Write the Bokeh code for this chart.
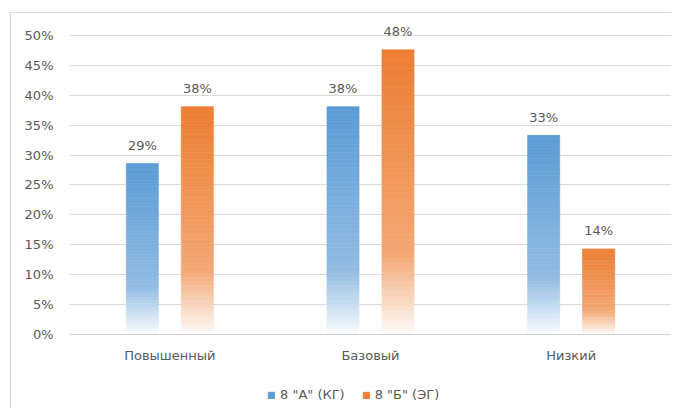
from bokeh.plotting import figure
from bokeh.layouts import column
from bokeh.models import Range1d, FixedTicker, NumeralTickFormatter, Legend, LegendItem, ColumnDataSource
from bokeh.core.properties import value
from bokeh.embed import file_html
from bokeh.resources import INLINE

categories = ["Повышенный", "Базовый", "Низкий"]
series_names = ['8 "А" (КГ)', '8 "Б" (ЭГ)']
series_a = [0.286, 0.381, 0.333]
series_b = [0.381, 0.476, 0.143]
y_ticks = [0.0, 0.05, 0.10, 0.15, 0.20, 0.25, 0.30, 0.35, 0.40, 0.45, 0.50]

colors = ["#5B9BD5", "#ED7D31"]
offsets = [-0.137, 0.137]
bar_w = 0.16
FONT = "DejaVu Sans"
TXT = "#595959"
N = 60


def mix(hex_c, w):
    r, g, b = int(hex_c[1:3], 16), int(hex_c[3:5], 16), int(hex_c[5:7], 16)
    r = round(r + (255 - r) * w)
    g = round(g + (255 - g) * w)
    b = round(b + (255 - b) * w)
    return "#%02x%02x%02x" % (r, g, b)


def whiteness(t):
    if t <= 0.72:
        return 0.33 * t / 0.72
    return 0.33 + 0.64 * (t - 0.72) / 0.28


# frame: 300 px for 0..0.5, plus 12 px headroom for the data labels
p = figure(width=660, height=352, output_backend="svg", toolbar_location=None,
           x_range=Range1d(0, 3), y_range=Range1d(0, 0.52),
           min_border_left=58, min_border_right=0, min_border_top=10, min_border_bottom=30)
p.outline_line_color = None
p.background_fill_color = "white"
p.border_fill_color = "white"

p.xgrid.grid_line_color = None
p.ygrid.grid_line_color = "#d9d9d9"
p.ygrid.ticker = FixedTicker(ticks=y_ticks)

p.yaxis.ticker = FixedTicker(ticks=y_ticks)
p.yaxis.formatter = NumeralTickFormatter(format="0%")
p.yaxis.axis_line_color = None
p.yaxis.major_tick_line_color = None
p.yaxis.minor_tick_line_color = None
p.yaxis.major_label_text_font = FONT
p.yaxis.major_label_text_font_size = "13px"
p.yaxis.major_label_text_color = TXT
p.yaxis.major_label_standoff = 10

p.xaxis.ticker = FixedTicker(ticks=[i + 0.5 for i in range(len(categories))])
p.xaxis.major_label_overrides = {i + 0.5: c for i, c in enumerate(categories)}
p.xaxis.axis_line_color = "#d0d0d0"
p.xaxis.major_tick_line_color = None
p.xaxis.minor_tick_line_color = None
p.xaxis.major_label_text_font = FONT
p.xaxis.major_label_text_font_size = "13px"
p.xaxis.major_label_text_color = TXT
p.xaxis.major_label_standoff = 7

# legend strip below the chart
p2 = figure(width=660, height=43, output_backend="svg", toolbar_location=None,
            x_range=Range1d(0, 3), y_range=Range1d(0, 0.5), min_border=0,
            x_axis_location=None, y_axis_location=None)
p2.grid.visible = False
p2.outline_line_color = None

items = []
for s, (vals, col, off, name) in enumerate(zip([series_a, series_b], colors, offsets, series_names)):
    left, right, top, bottom, fc = [], [], [], [], []
    for i, v in enumerate(vals):
        cx = i + 0.5 + off
        for k in range(N):
            t = (k + 0.5) / N
            c = mix(col, whiteness(t))
            left.append(cx - bar_w / 2)
            right.append(cx + bar_w / 2)
            top.append(v * (1 - k / N))
            bottom.append(v * (1 - (k + 1) / N))
            fc.append(c)
    src = ColumnDataSource(dict(left=left, right=right, top=top, bottom=bottom, fc=fc))
    p.quad(left="left", right="right", top="top", bottom="bottom", source=src,
           fill_color="fc", line_color="fc", line_width=0.6)

    lsrc = ColumnDataSource(dict(x=[i + 0.5 + off for i in range(len(vals))], y=vals,
                                 t=["%d%%" % round(v * 100) for v in vals]))
    p.text(x="x", y="y", text="t", source=lsrc, text_align="center", text_baseline="alphabetic",
           y_offset=-18, text_font=value(FONT), text_font_size="13px", text_color=TXT)

    key = p2.quad(left="left", right="right", top="top", bottom="bottom", source=src,
                  fill_color="fc", line_color="fc", visible=False)
    items.append(LegendItem(label=name, renderers=[key], index=0))

legend = Legend(items=items, orientation="horizontal", location=(198, 6),
                glyph_width=8, glyph_height=8, label_standoff=5, spacing=17,
                padding=0, margin=0, border_line_color=None, background_fill_alpha=0,
                label_text_font=FONT, label_text_font_size="13px", label_text_color=TXT)
p2.add_layout(legend)

layout = column(p, p2, spacing=0)
layout.margin = (12, 0, 0, 10)
layout.styles = {"border-left": "1px solid #d9d9d9", "border-top": "1px solid #d9d9d9"}

open("out.html", "w").write(file_html(layout, INLINE))
